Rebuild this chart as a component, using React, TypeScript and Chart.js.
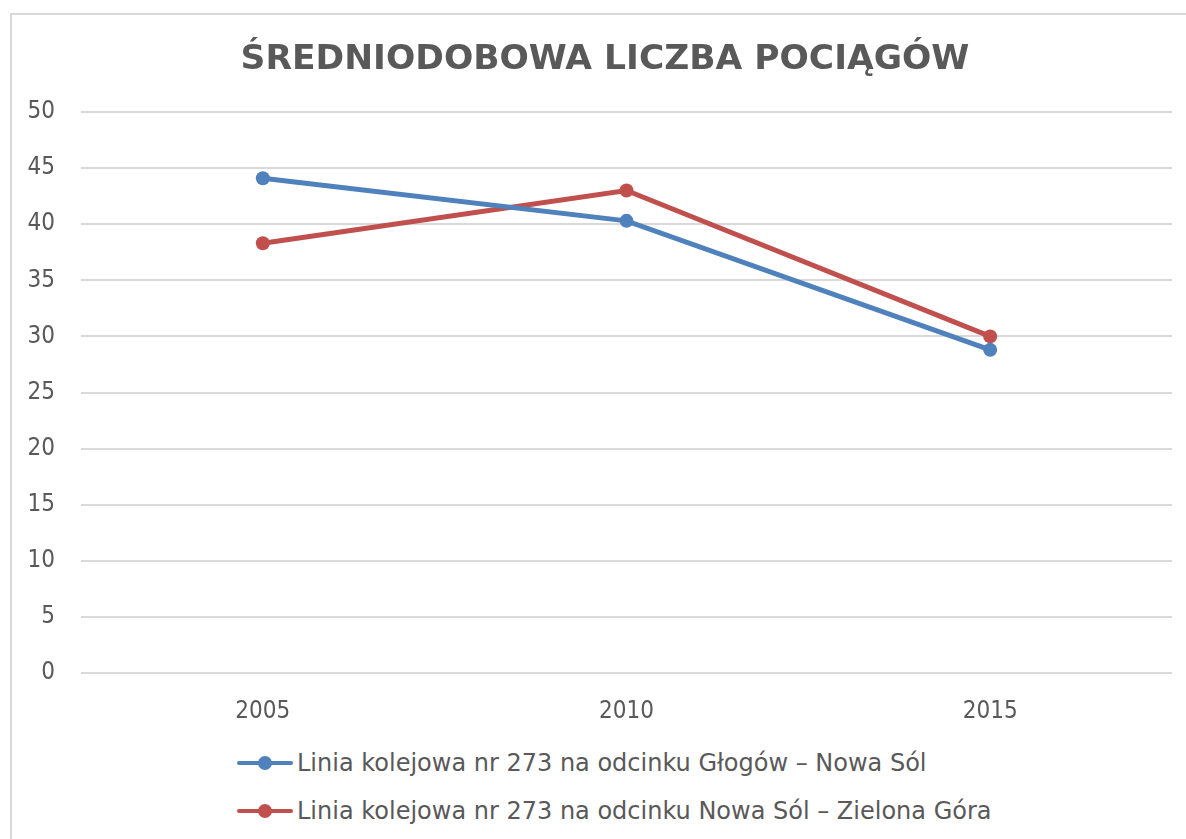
import React, { useEffect, useRef } from "react";
import { Chart, registerables } from "chart.js";

Chart.register(...registerables);

const TITLE = "ŚREDNIODOBOWA LICZBA POCIĄGÓW";
const YEARS = ["2005", "2010", "2015"];
const SERIES_NAMES = [
  "Linia kolejowa nr 273 na odcinku Głogów – Nowa Sól",
  "Linia kolejowa nr 273 na odcinku Nowa Sól – Zielona Góra",
];
const GLOGOW_NOWASOL = [44.1, 40.3, 28.8];
const NOWASOL_ZIELONAGORA = [38.3, 43.0, 30.0];
const COLORS = ["#4F81BD", "#C0504D"];

const FONT = '"DejaVu Sans Condensed", "DejaVu Sans", sans-serif';
const WIDE_FONT = '"DejaVu Sans", sans-serif';
const TEXT = "#595959";

export default function App() {
  const ref = useRef<HTMLCanvasElement | null>(null);

  useEffect(() => {
    if (!ref.current) return;
    const chart = new Chart(ref.current, {
      type: "line",
      data: {
        labels: YEARS,
        datasets: [
          {
            label: SERIES_NAMES[0],
            data: GLOGOW_NOWASOL,
            borderColor: COLORS[0],
            backgroundColor: COLORS[0],
            borderWidth: 5,
            pointRadius: 7,
            pointBorderWidth: 0,
            tension: 0,
            yAxisID: "y",
          },
          {
            label: SERIES_NAMES[1],
            data: NOWASOL_ZIELONAGORA,
            borderColor: COLORS[1],
            backgroundColor: COLORS[1],
            borderWidth: 5,
            pointRadius: 7,
            pointBorderWidth: 0,
            tension: 0,
            yAxisID: "y",
          },
        ],
      },
      options: {
        animation: false,
        responsive: true,
        maintainAspectRatio: false,
        layout: { padding: 0 },
        plugins: {
          legend: { display: false },
          tooltip: { enabled: false },
          title: {
            display: true,
            text: TITLE,
            color: TEXT,
            font: { family: WIDE_FONT, size: 34.5, weight: "bold", lineHeight: 1.0 },
            padding: { top: 28, bottom: 34.5 },
          },
        },
        scales: {
          x: {
            offset: true,
            grid: { display: false, drawTicks: false },
            border: { display: false },
            ticks: { color: TEXT, font: { family: FONT, size: 24 }, padding: 24 },
            afterFit: (s: any) => {
              s.height = 62;
            },
          },
          y: {
            min: 0,
            max: 50,
            ticks: { stepSize: 5, color: TEXT, font: { family: FONT, size: 24 }, padding: 26 },
            grid: { color: "#D9D9D9", lineWidth: 2, drawTicks: false },
            border: { display: false },
            afterFit: (s: any) => {
              s.width = 69;
            },
          },
          yRightSpace: {
            type: "linear",
            position: "right",
            display: true,
            grid: { display: false, drawTicks: false },
            ticks: { display: false },
            border: { display: false },
            afterFit: (s: any) => {
              s.width = 26;
            },
          },
        },
      },
    });
    return () => chart.destroy();
  }, []);

  const legendRow = (i: number, top: number) => (
    <div
      key={i}
      style={{
        position: "absolute",
        left: 237,
        top: top - 15,
        height: 30,
        display: "flex",
        alignItems: "center",
        whiteSpace: "nowrap",
      }}
    >
      <div style={{ position: "relative", width: 56, height: 14, marginRight: 4 }}>
        <div
          style={{
            position: "absolute",
            left: 0,
            right: 0,
            top: 5,
            height: 4,
            borderRadius: 2,
            background: COLORS[i],
          }}
        />
        <div
          style={{
            position: "absolute",
            left: 21,
            top: 0,
            width: 14,
            height: 14,
            borderRadius: 7,
            background: COLORS[i],
          }}
        />
      </div>
      <span style={{ font: `24px ${WIDE_FONT}`, color: TEXT, lineHeight: "30px" }}>{SERIES_NAMES[i]}</span>
    </div>
  );

  return (
    <div style={{ position: "fixed", left: 0, top: 0, right: 0, bottom: 0, overflow: "hidden", background: "#fff" }}>
      <div
        style={{
          position: "absolute",
          left: 10,
          top: 13,
          width: 1200,
          height: 900,
          border: "2px solid #D9D9D9",
          boxSizing: "border-box",
        }}
      />
      <div style={{ position: "absolute", left: 12, top: 15, width: 1186, height: 720 }}>
        <canvas ref={ref} />
      </div>
      {legendRow(0, 763)}
      {legendRow(1, 811)}
    </div>
  );
}
